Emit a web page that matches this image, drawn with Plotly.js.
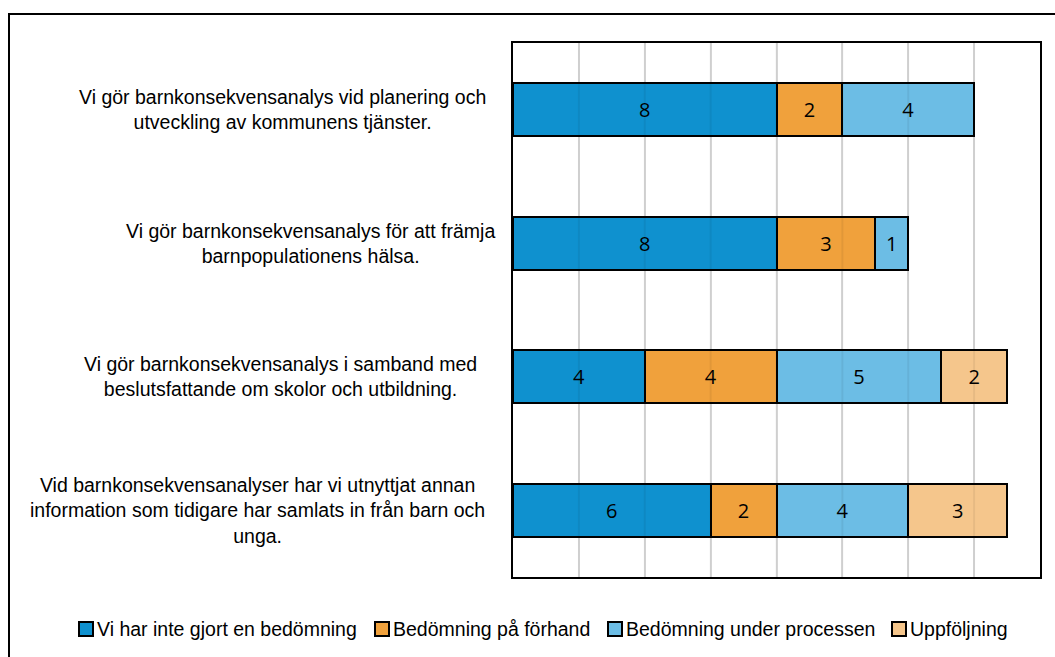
<!DOCTYPE html>
<html>
<head>
<meta charset="utf-8">
<script src="https://cdn.plot.ly/plotly-3.0.1.min.js"></script>
<style>html,body{margin:0;padding:0;background:#fff;}#chart{width:1055px;height:657px;}</style>
</head>
<body>
<div id="chart"></div>
<script>
const categories = [
  "Vi gör barnkonsekvensanalys vid planering och<br>utveckling av kommunens tjänster.",
  "Vi gör barnkonsekvensanalys för att främja<br>barnpopulationens hälsa.",
  "Vi gör barnkonsekvensanalys i samband med<br>beslutsfattande om skolor och utbildning.",
  "Vid barnkonsekvensanalyser har vi utnyttjat annan<br>information som tidigare har samlats in från barn och<br>unga."
];
const catKeys = ["Q1", "Q2", "Q3", "Q4"];
const seriesNames = ["Vi har inte gjort en bedömning", "Bedömning på förhand", "Bedömning under processen", "Uppföljning"];
const notAssessed = [8, 8, 4, 6];
const beforehand = [2, 3, 4, 2];
const during = [4, 1, 5, 4];
const followUp = [0, 0, 2, 3];
const seriesValues = [notAssessed, beforehand, during, followUp];
const colors = ["#0F91CF", "#F0A13C", "#6CBDE5", "#F5C68C"];
const gridVals = [2, 4, 6, 8, 10, 12, 14];

// layout constants (pixels in container)
const labelCenterPx = [282, 310, 280, 257];
const legendSymbolLeftPx = [79, 375, 608, 892];
const legendTopPx = 622, legendSize = 14;
const L = 513, R = 15, T = 43, B = 80, W = 1055, H = 657;
const pw = W - L - R, ph = H - T - B;
const px2x = p => (p - L) / pw;
const py2y = p => (H - B - p) / ph;

const traces = seriesValues.map((vals, i) => ({
  type: "bar",
  orientation: "h",
  name: seriesNames[i],
  y: catKeys,
  x: vals.map(v => v === 0 ? null : v),
  text: vals.map(v => v === 0 ? "" : String(v)),
  textposition: "inside",
  insidetextanchor: "middle",
  textangle: 0,
  constraintext: "none",
  textfont: {family: "Open Sans, Noto Sans, sans-serif", size: 20, color: "#000"},
  marker: {color: colors[i], line: {color: "#000", width: 2}},
  hoverinfo: "none",
  showlegend: false,
  width: 0.4
}));

const shapes = gridVals.map(g => ({
  type: "line", xref: "x", yref: "paper", x0: g, x1: g, y0: 0, y1: 1,
  line: {color: "rgba(0,0,0,0.06)", width: 2}, layer: "above"
}));
// outer chart border
shapes.push({
  type: "rect", xref: "paper", yref: "paper",
  x0: px2x(9), x1: px2x(1070), y0: py2y(680), y1: py2y(14),
  line: {color: "#000", width: 2}, fillcolor: "rgba(0,0,0,0)", layer: "below"
});

const annotations = categories.map((c, i) => ({
  text: c, xref: "paper", yref: "y", x: px2x(labelCenterPx[i]), y: catKeys[i],
  xanchor: "center", yanchor: "middle", align: "center", showarrow: false,
  font: {family: "Liberation Sans, Arial, sans-serif", size: 19.5, color: "#000"}
}));

// legend (symbols + names)
seriesNames.forEach((n, i) => {
  const x0 = legendSymbolLeftPx[i];
  shapes.push({
    type: "rect", xref: "paper", yref: "paper",
    x0: px2x(x0), x1: px2x(x0 + legendSize),
    y0: py2y(legendTopPx + legendSize), y1: py2y(legendTopPx),
    line: {color: "#000", width: 2}, fillcolor: colors[i]
  });
  annotations.push({
    text: n, xref: "paper", yref: "paper",
    x: px2x(x0 + legendSize + 2), y: py2y(legendTopPx + legendSize / 2),
    xanchor: "left", yanchor: "middle", showarrow: false,
    font: {family: "Liberation Sans, Arial, sans-serif", size: 19.5, color: "#000"}
  });
});

const layout = {
  width: W, height: H,
  margin: {l: L, r: R, t: T, b: B, pad: 0},
  paper_bgcolor: "#fff", plot_bgcolor: "#fff",
  barmode: "stack",
  bargap: 0.6,
  showlegend: false,
  xaxis: {
    range: [0, 16], dtick: 2, tick0: 0, showticklabels: false,
    showgrid: true, gridcolor: "#dcdcdc", gridwidth: 2,
    zeroline: false, showline: true, linecolor: "#000", linewidth: 2, mirror: true,
    ticks: "", fixedrange: true
  },
  yaxis: {
    autorange: "reversed", showticklabels: false, showgrid: false,
    showline: true, linecolor: "#000", linewidth: 2, mirror: true, ticks: "", fixedrange: true
  },
  shapes: shapes,
  annotations: annotations
};

Plotly.newPlot("chart", traces, layout, {displayModeBar: false, staticPlot: true});
</script>
</body>
</html>
